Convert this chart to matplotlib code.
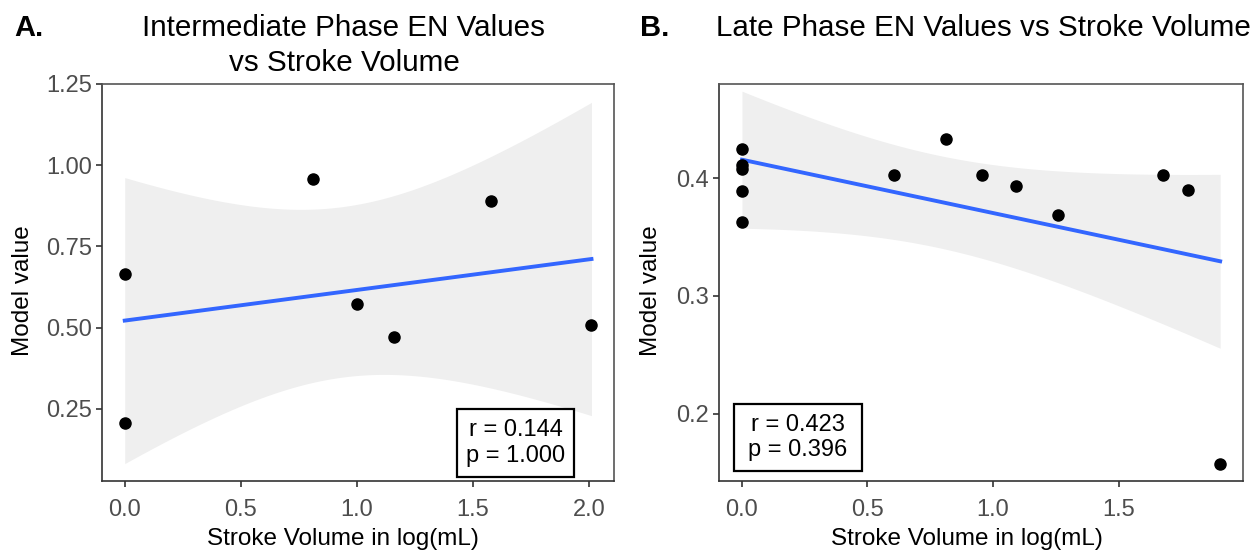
import numpy as np
import matplotlib.pyplot as plt
from matplotlib.patches import Rectangle

plt.rcParams['font.family'] = ['Liberation Sans', 'DejaVu Sans']

# panel A : intermediate phase
x_inter = [0.0, 0.0, 0.813, 1.001, 1.162, 1.577, 2.011]
y_inter = [0.665, 0.207, 0.957, 0.573, 0.471, 0.889, 0.509]
stats_inter = "r = 0.144\np = 1.000"

# panel B : late phase
x_late = [0.0, 0.0, 0.0, 0.0, 0.0, 0.604, 0.814, 0.956, 1.091, 1.260, 1.678, 1.778, 1.905]
y_late = [0.4247, 0.4113, 0.408, 0.3892, 0.3627, 0.4026, 0.433, 0.403, 0.3932, 0.3684, 0.403, 0.3903, 0.157]
stats_late = "r = 0.423\np = 0.396"

# t quantiles (0.975) for df = n-2
t_crit = {5: 2.5706, 11: 2.2010}

W, H = 1257, 553


def lm_band(x, y):
    x = np.asarray(x)
    y = np.asarray(y)
    n = len(x)
    slope, icpt = np.polyfit(x, y, 1)
    xs = np.linspace(x.min(), x.max(), 80)
    fit = icpt + slope * xs
    res = y - (icpt + slope * x)
    s = np.sqrt(np.sum(res**2) / (n - 2))
    sxx = np.sum((x - x.mean())**2)
    se = s * np.sqrt(1/n + (xs - x.mean())**2 / sxx)
    half = t_crit[n - 2] * se
    return xs, fit, fit - half, fit + half


def draw(ax, x, y):
    xs, fit, lo, hi = lm_band(x, y)
    ax.fill_between(xs, lo, hi, color='#EFEFEF', lw=0, zorder=1)
    ax.plot(xs, fit, color='#3366FF', lw=2.8, zorder=2)
    ax.plot(x, y, 'o', color='black', ms=8, zorder=3)
    for side, sp in ax.spines.items():
        sp.set_color('#333333' if side in ('left', 'bottom') else '#555555')
        sp.set_linewidth(1.2)
    ax.tick_params(length=4, width=1.2, color='#333333', labelcolor='#4D4D4D',
                   labelsize=17)
    ax.tick_params(axis='x', pad=9)
    ax.tick_params(axis='y', pad=3)
    ax.set_xlabel("Stroke Volume in log(mL)", fontsize=17.5)
    ax.set_ylabel("Model value", fontsize=17.5)


fig = plt.figure(figsize=(W/100, H/100), dpi=100)
axA = fig.add_axes([102/W, 1-481/H, 512/W, 397/H])
axB = fig.add_axes([719/W, 1-481/H, 524/W, 397/H])

draw(axA, x_inter, y_inter)
axA.set_xlim(-0.098, 2.108)
axA.set_ylim(0.028, 1.25)
axA.set_xticks([0.0, 0.5, 1.0, 1.5, 2.0])
axA.set_yticks([0.25, 0.50, 0.75, 1.00, 1.25])
axA.set_yticklabels(['0.25', '0.50', '0.75', '1.00', '1.25'])
axA.xaxis.set_label_coords(0.471, -0.118)
axA.yaxis.set_label_coords(-0.133, 0.479)

draw(axB, x_late, y_late)
axB.set_xlim(-0.0916, 1.996)
axB.set_ylim(0.1428, 0.4799)
axB.set_xticks([0.0, 0.5, 1.0, 1.5])
axB.set_yticks([0.2, 0.3, 0.4])
axB.xaxis.set_label_coords(0.473, -0.118)
axB.yaxis.set_label_coords(-0.108, 0.479)

# stat boxes
axA.add_patch(Rectangle((0.693, 0.01), 0.229, 0.171, transform=axA.transAxes,
                        fill=False, ec='black', lw=1.6, zorder=4))
axA.text(0.8075, 0.0955, stats_inter, transform=axA.transAxes, ha='center', va='center',
         fontsize=17, linespacing=1.2, zorder=5)
axB.add_patch(Rectangle((0.029, 0.024), 0.243, 0.17, transform=axB.transAxes,
                        fill=False, ec='black', lw=1.6, zorder=4))
axB.text(0.1505, 0.109, stats_late, transform=axB.transAxes, ha='center', va='center',
         fontsize=17, linespacing=1.2, zorder=5)

# titles
fig.text(344/W, 1-36/H, "Intermediate Phase EN Values", ha='center', va='baseline', fontsize=21.3)
fig.text(344/W, 1-71/H, "vs Stroke Volume", ha='center', va='baseline', fontsize=21.3)
fig.text(983/W, 1-36/H, "Late Phase EN Values vs Stroke Volume", ha='center',
         va='baseline', fontsize=21.3)
fig.text(14/W, 1-36/H, "A.", fontsize=21, fontweight='bold', va='baseline')
fig.text(640/W, 1-36/H, "B.", fontsize=21, fontweight='bold', va='baseline')

fig.savefig("out.png", dpi=100)
